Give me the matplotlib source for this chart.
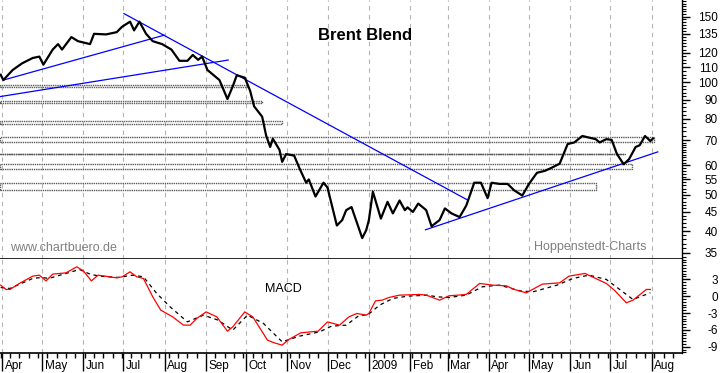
import matplotlib
matplotlib.use('Agg')
import matplotlib.pyplot as plt
import matplotlib.dates as mdates
import matplotlib.ticker as mticker
import matplotlib.transforms as mtransforms
from matplotlib.patches import Rectangle
import numpy as np
import pandas as pd

plt.rcParams['font.family'] = ['Liberation Sans', 'DejaVu Sans']

# ---------------- data ----------------
price_dates = ["2008-03-31", "2008-04-02", "2008-04-09", "2008-04-16", "2008-04-24", "2008-04-29", "2008-05-02", "2008-05-09", "2008-05-13", "2008-05-16",
               "2008-05-23", "2008-05-28", "2008-06-06", "2008-06-09", "2008-06-18", "2008-06-26", "2008-06-30", "2008-07-06", "2008-07-09", "2008-07-13",
               "2008-07-18", "2008-07-23", "2008-07-30", "2008-08-06", "2008-08-12", "2008-08-18", "2008-08-22", "2008-08-26", "2008-08-29", "2008-09-02",
               "2008-09-11", "2008-09-17", "2008-09-21", "2008-09-24", "2008-09-30", "2008-10-04", "2008-10-07", "2008-10-13", "2008-10-16", "2008-10-19",
               "2008-10-21", "2008-10-26", "2008-10-28", "2008-10-31", "2008-11-06", "2008-11-10", "2008-11-15", "2008-11-17", "2008-11-22", "2008-11-28",
               "2008-12-01", "2008-12-08", "2008-12-12", "2008-12-15", "2008-12-19", "2008-12-21", "2008-12-25", "2008-12-27", "2008-12-30", "2009-01-01",
               "2009-01-04", "2009-01-10", "2009-01-15", "2009-01-19", "2009-01-24", "2009-01-28", "2009-01-30", "2009-02-03", "2009-02-07", "2009-02-13",
               "2009-02-17", "2009-02-23", "2009-02-27", "2009-03-04", "2009-03-10", "2009-03-15", "2009-03-21", "2009-03-26", "2009-03-31", "2009-04-03",
               "2009-04-09", "2009-04-15", "2009-04-20", "2009-04-26", "2009-05-01", "2009-05-07", "2009-05-13", "2009-05-18", "2009-05-24", "2009-05-30",
               "2009-06-04", "2009-06-10", "2009-06-15", "2009-06-20", "2009-06-23", "2009-06-28", "2009-07-02", "2009-07-06", "2009-07-11", "2009-07-15",
               "2009-07-20", "2009-07-23", "2009-07-27", "2009-07-31", "2009-08-02"]
price_values = [104.9, 101.5, 108.0, 112.5, 116.3, 117.3, 111.6, 122.5, 126.7, 122.5,
                132.3, 129.0, 126.7, 135.0, 134.5, 136.4, 141.0, 145.5, 137.9, 145.5,
                135.0, 129.0, 126.7, 122.5, 114.3, 114.3, 118.5, 115.0, 117.3, 108.0,
                101.5, 90.3, 97.7, 104.6, 103.0, 95.0, 86.3, 81.0, 72.1, 67.2,
                70.7, 66.0, 61.3, 64.3, 63.7, 58.9, 53.9, 55.0, 49.5, 53.9,
                52.3, 41.4, 42.8, 45.5, 46.4, 44.2, 40.2, 38.3, 40.2, 42.8,
                51.0, 43.2, 47.9, 44.6, 48.3, 45.5, 46.3, 45.0, 47.4, 45.5,
                41.2, 42.8, 46.0, 44.6, 43.6, 46.8, 53.9, 53.9, 49.0, 53.9,
                53.5, 53.5, 51.4, 49.8, 53.5, 57.3, 58.0, 59.1, 60.6, 68.4,
                69.1, 71.9, 71.2, 70.5, 69.1, 70.5, 70.2, 64.3, 60.4, 62.3,
                67.2, 67.9, 71.9, 69.7, 70.8]

macd_dates = ["2008-03-31", "2008-04-04", "2008-04-07", "2008-04-14", "2008-04-24", "2008-04-29", "2008-05-04", "2008-05-09", "2008-05-19", "2008-05-27",
              "2008-06-01", "2008-06-07", "2008-06-12", "2008-06-26", "2008-06-30", "2008-07-06", "2008-07-11", "2008-07-16", "2008-07-23", "2008-07-29",
              "2008-08-07", "2008-08-15", "2008-08-20", "2008-08-25", "2008-09-01", "2008-09-09", "2008-09-17", "2008-09-21", "2008-09-30", "2008-10-06",
              "2008-10-17", "2008-10-22", "2008-10-28", "2008-11-02", "2008-11-11", "2008-11-24", "2008-12-01", "2008-12-10", "2008-12-17", "2008-12-23",
              "2008-12-30", "2009-01-01", "2009-01-06", "2009-01-11", "2009-01-16", "2009-01-24", "2009-02-08", "2009-02-13", "2009-02-23", "2009-03-02",
              "2009-03-15", "2009-03-25", "2009-04-04", "2009-04-14", "2009-04-20", "2009-04-29", "2009-05-11", "2009-05-24", "2009-05-31", "2009-06-12",
              "2009-06-20", "2009-06-28", "2009-07-04", "2009-07-13", "2009-07-18", "2009-07-28", "2009-07-31"]
macd_values = [1.96, 1.19, 1.19, 2.26, 3.56, 3.74, 2.72, 3.92, 4.15, 5.22,
               4.50, 2.72, 3.74, 3.26, 3.44, 4.33, 3.44, 3.15, -0.12, -2.49,
               -3.69, -5.16, -5.16, -3.97, -2.80, -3.69, -6.23, -5.47, -2.80, -3.69,
               -7.83, -8.31, -8.72, -7.71, -6.53, -6.23, -4.58, -5.16, -3.69, -3.08,
               -3.38, -3.08, -0.83, -0.71, -0.24, 0.18, 0.30, 0.18, -0.71, 0.06,
               0.30, 2.26, 1.96, 1.84, 1.19, 0.59, 2.14, 2.37, 3.56, 4.04,
               3.15, 2.26, 1.07, -1.19, -0.71, 1.19, 1.19]

signal_dates = ["2008-03-31", "2008-04-07", "2008-04-24", "2008-05-01", "2008-05-06", "2008-05-19", "2008-05-29", "2008-06-06", "2008-06-13", "2008-06-27",
                "2008-07-08", "2008-07-16", "2008-07-26", "2008-08-05", "2008-08-18", "2008-08-30", "2008-09-10", "2008-09-21", "2008-10-02", "2008-10-14",
                "2008-10-28", "2008-11-10", "2008-11-25", "2008-12-04", "2008-12-15", "2008-12-25", "2008-12-31", "2009-01-09", "2009-01-19", "2009-01-30",
                "2009-02-14", "2009-02-21", "2009-03-02", "2009-03-15", "2009-03-27", "2009-04-09", "2009-04-24", "2009-05-04", "2009-05-22", "2009-06-03",
                "2009-06-15", "2009-06-28", "2009-07-08", "2009-07-18", "2009-07-31"]
signal_values = [1.55, 1.37, 3.15, 3.33, 3.15, 4.04, 4.75, 3.92, 3.56, 3.33,
                 3.74, 3.44, 0.48, -1.90, -4.58, -3.38, -4.27, -6.05, -3.38, -4.86,
                 -8.13, -7.12, -6.36, -5.34, -5.16, -3.38, -3.38, -1.60, -0.41, 0.00,
                 0.18, -0.12, -0.24, 0.18, 1.66, 1.96, 0.95, 0.77, 1.96, 3.15,
                 3.74, 2.97, 1.19, -0.59, 0.59]

trend_start_dates = ["2008-04-02", "2008-03-30", "2008-07-01", "2009-02-12"]
trend_start_values = [101.5, 91.6, 153.2, 40.27]
trend_end_dates = ["2008-08-01", "2008-09-18", "2009-03-16", "2009-08-06"]
trend_end_values = [134.0, 114.9, 48.45, 65.26]

band_low = [97.1, 88.2, 77.4, 69.2, 64.2, 58.5, 51.4]
band_high = [98.45, 89.3, 78.8, 71.5, 64.4, 60.5, 53.9]
band_end = ["2008-10-02", "2008-10-13", "2008-10-28", "2009-08-03", "2009-07-12", "2009-07-17", "2009-06-20"]

price_ticks = [150, 135, 120, 110, 100, 90, 80, 70, 60, 55, 50, 45, 40, 35]
macd_ticks = [3, 0, -3, -6, -9]
month_labels = ["Apr", "May", "Jun", "Jul", "Aug", "Sep", "Oct", "Nov", "Dec", "2009",
                "Feb", "Mar", "Apr", "May", "Jun", "Jul", "Aug"]

title_text = "Brent Blend"
# --------------------------------------

W, H = 723, 373
fig = plt.figure(figsize=(W / 100, H / 100), dpi=100)
fig.patch.set_facecolor('white')

ax = fig.add_axes([0, 1 - 259.3 / H, 681.7 / W, 259.3 / H])
ax2 = fig.add_axes([0, 1 - 353.0 / H, 681.7 / W, 93.7 / H], sharex=ax)

x0 = pd.Timestamp("2008-03-30 12:00")
x1 = pd.Timestamp("2009-08-23 12:00")

pd_price = pd.to_datetime(price_dates)
pd_macd = pd.to_datetime(macd_dates)
pd_signal = pd.to_datetime(signal_dates)

# ---- main panel ----
ax.set_yscale('log')
ax.set_ylim(33.61, 166.3)
ax.set_xlim(x0, x1)

for lo, hi, end in zip(band_low, band_high, band_end):
    xs = mdates.date2num(x0)
    xe = mdates.date2num(pd.Timestamp(end))
    r = Rectangle((xs, lo), xe - xs, hi - lo, fill=False, edgecolor='#5a5a5a',
                  linewidth=1.0, linestyle=(0, (1, 0.6)), zorder=1.5)
    ax.add_patch(r)

for sd, sv, ed, ev in zip(trend_start_dates, trend_start_values, trend_end_dates, trend_end_values):
    ax.plot([pd.Timestamp(sd), pd.Timestamp(ed)], [sv, ev], color='#0000ff', lw=0.9, zorder=2,
            solid_capstyle='butt')

ax.plot(pd_price, price_values, color='black', lw=1.6, zorder=3, solid_joinstyle='round')

# ---- MACD panel ----
ax2.set_ylim(-10.12, 6.56)
ax2.plot(pd_signal, signal_values, color='black', lw=0.9, linestyle=(0, (3, 3)), zorder=2)
ax2.plot(pd_macd, macd_values, color='#ff0000', lw=0.9, zorder=3)

# ---- spines ----
for a in (ax, ax2):
    a.spines['left'].set_visible(False)
    a.spines['top'].set_visible(False)
    a.spines['right'].set_color('black')
    a.spines['right'].set_linewidth(1.0)
    a.spines['bottom'].set_color('black')
    a.spines['bottom'].set_linewidth(1.2)
    a.set_facecolor('white')

# ---- x ticks / grid ----
month_locs = pd.date_range("2008-04-01", "2009-08-01", freq='MS')
ax2.xaxis.set_major_locator(mticker.FixedLocator(mdates.date2num(month_locs)))
ax2.xaxis.set_minor_locator(mdates.WeekdayLocator(byweekday=mdates.MO))
ax2.set_xticklabels(month_labels)
ax2.set_xlim(x0, x1)

for a in (ax, ax2):
    a.grid(True, axis='x', which='major', color='#b4b4b4', linestyle=(0, (4, 4)), linewidth=0.8)
    a.set_axisbelow(True)

ax.tick_params(axis='x', which='both', bottom=False, labelbottom=False)
ax2.tick_params(axis='x', which='major', direction='out', length=13, width=1.0, color='black',
                pad=-8, labelsize=8.5)
ax2.tick_params(axis='x', which='minor', direction='out', length=3.6, width=1.0, color='black')
offset = mtransforms.ScaledTranslation(0.025, 0, fig.dpi_scale_trans)
for lab in ax2.get_xticklabels():
    lab.set_horizontalalignment('left')
    lab.set_transform(lab.get_transform() + offset)

# ---- y ticks ----
ax.yaxis.tick_right()
ax.yaxis.set_major_locator(mticker.FixedLocator(price_ticks))
ax.yaxis.set_major_formatter(mticker.FixedFormatter([str(v) for v in price_ticks]))
minor_p = list(np.arange(33, 70, 1.0)) + list(np.arange(70, 100, 2.0)) + list(np.arange(100, 166, 2.5))
ax.yaxis.set_minor_locator(mticker.FixedLocator(minor_p))
ax.yaxis.set_minor_formatter(mticker.NullFormatter())
ax.tick_params(axis='y', which='major', direction='out', length=5.8, width=1.0, pad=20.3,
               labelsize=8.5, left=False, right=True)
ax.tick_params(axis='y', which='minor', direction='out', length=2.8, width=0.8, left=False, right=True)
for lab in ax.get_yticklabels():
    lab.set_horizontalalignment('right')

ax2.yaxis.tick_right()
ax2.yaxis.set_major_locator(mticker.FixedLocator(macd_ticks))
ax2.yaxis.set_major_formatter(mticker.FixedFormatter([str(v) for v in macd_ticks]))
ax2.yaxis.set_minor_locator(mticker.FixedLocator(list(np.arange(-10, 6.6, 0.5))))
ax2.yaxis.set_minor_formatter(mticker.NullFormatter())
ax2.tick_params(axis='y', which='major', direction='out', length=5.8, width=1.0, pad=20.3,
                labelsize=8.5, left=False, right=True)
ax2.tick_params(axis='y', which='minor', direction='out', length=2.8, width=0.8, left=False, right=True)
for lab in ax2.get_yticklabels():
    lab.set_horizontalalignment('right')

# ---- texts ----
fig.text(365 / W, 1 - 35 / H, title_text, ha='center', va='center', fontsize=12, fontweight='bold')
fig.text(10 / W, 1 - 248.3 / H, "www.chartbuero.de", ha='left', va='center', fontsize=9, color='#808080')
fig.text(534 / W, 1 - 246.7 / H, "Hoppenstedt-Charts", ha='left', va='center', fontsize=9, color='#808080')
fig.text(283 / W, 1 - 289 / H, "MACD", ha='center', va='center', fontsize=9, color='black')

fig.savefig("out.png", dpi=100)
